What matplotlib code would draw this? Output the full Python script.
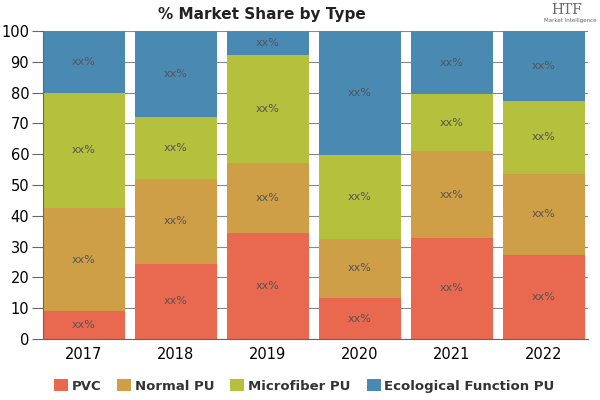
import matplotlib
matplotlib.use("Agg")
import matplotlib.pyplot as plt
import numpy as np

years = ["2017", "2018", "2019", "2020", "2021", "2022"]
series_names = ["PVC", "Normal PU", "Microfiber PU", "Ecological Function PU"]
pvc = [9.1, 24.4, 34.4, 13.3, 32.8, 27.3]
normal_pu = [33.4, 27.6, 22.6, 19.2, 28.2, 26.3]
microfiber_pu = [37.5, 20.0, 35.2, 27.2, 18.5, 23.7]
ecological_pu = [20.0, 28.0, 7.8, 40.3, 20.5, 22.7]
colors = ["#E8694F", "#CF9F47", "#B5C03C", "#4A8AB2"]
label_text = "xx%"

fig = plt.figure(figsize=(6, 4), dpi=100)
ax = fig.add_axes([0.0717, 0.1525, 0.908, 0.77])

x = np.arange(len(years))
bottom = np.zeros(len(years))
for vals, name, c in zip([pvc, normal_pu, microfiber_pu, ecological_pu], series_names, colors):
    vals = np.array(vals)
    ax.bar(x, vals, bottom=bottom, width=0.89, color=c, label=name, zorder=2)
    for xi, b, v in zip(x, bottom, vals):
        ax.text(xi, b + v / 2, label_text, ha="center", va="center", fontsize=8, color="#555555", zorder=3)
    bottom += vals

ax.set_xlim(-0.445, len(years) - 0.52)
ax.set_ylim(0, 100)
ax.set_yticks(range(0, 101, 10))
ax.yaxis.grid(True, color="#888888", linewidth=0.8, zorder=0)
ax.set_axisbelow(True)
ax.set_xticks(x)
ax.set_xticklabels(years, fontsize=10.5)
ax.tick_params(axis="y", labelsize=10.5, length=8, color="#666666", pad=2)
ax.tick_params(axis="x", length=0, pad=6)
for s in ["top", "right"]:
    ax.spines[s].set_visible(False)
ax.spines["left"].set_color("#666666")
ax.spines["bottom"].set_color("#666666")

fig.text(0.437, 0.963, "% Market Share by Type", ha="center", va="center",
         fontsize=11, fontweight="bold",
         family=["Liberation Sans Narrow", "DejaVu Sans Condensed", "DejaVu Sans"], color="#222222")
fig.text(0.945, 0.975, "HTF", ha="center", va="center", fontsize=10, family="DejaVu Serif", color="#666666")
fig.text(0.95, 0.948, "Market Intelligence", ha="center", va="center", fontsize=4, color="#666666")

handles, labels = ax.get_legend_handles_labels()
leg = fig.legend(handles, labels, loc="center", bbox_to_anchor=(0.507, 0.035), ncol=4, frameon=False,
                 handlelength=1.06, handleheight=1.06, handletextpad=0.3, columnspacing=1.2,
                 prop={"size": 9.5, "weight": "semibold"})
for t in leg.get_texts():
    t.set_color("#333333")

fig.savefig("out.png", dpi=100)
